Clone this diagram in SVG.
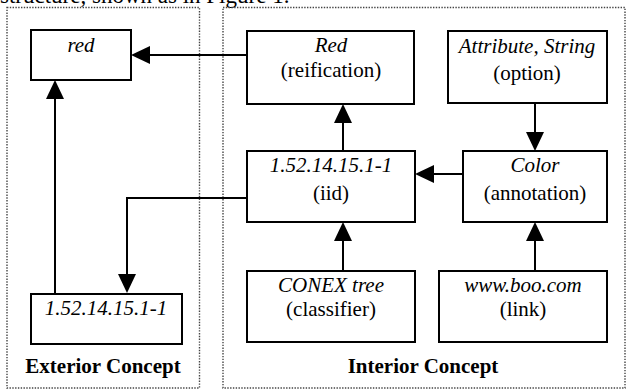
<svg xmlns="http://www.w3.org/2000/svg" width="626" height="390" viewBox="0 0 626 390">
<style>
text{font-family:"Liberation Serif","Times New Roman",serif;font-size:21px;fill:#000;text-anchor:middle}
.it{font-style:italic}
.b{font-weight:bold}
.box{fill:#fff;stroke:#000;stroke-width:2}
.region{fill:none;stroke:#444;stroke-width:1.4;stroke-dasharray:1.4 1.4}
.conn{fill:none;stroke:#000;stroke-width:2}
</style>
<defs>
<marker id="ah" markerUnits="userSpaceOnUse" markerWidth="20" markerHeight="20" refX="0" refY="9" orient="auto" viewBox="0 0 20 18">
<path d="M0,0 L19,9 L0,18 z" fill="#000"/>
</marker>
</defs>
<rect width="626" height="390" fill="#fff"/>
<text x="0" y="3" style="text-anchor:start;font-size:23px">structure, shown as in Figure 1.</text>
<g id="exterior-region">
<rect class="region" x="7" y="7.5" width="192.5" height="380.5"/>
<text class="b" x="103" y="373">Exterior Concept</text>
</g>
<g id="interior-region">
<rect class="region" x="223" y="7.5" width="402" height="380.5"/>
<text class="b" x="423" y="373">Interior Concept</text>
</g>
<g id="connectors">
<path class="conn" d="M247,55 H150" marker-end="url(#ah)"/>
<path class="conn" d="M343,151 V123" marker-end="url(#ah)"/>
<path class="conn" d="M535,103 V132" marker-end="url(#ah)"/>
<path class="conn" d="M463,174 H434" marker-end="url(#ah)"/>
<path class="conn" d="M343,271 V241" marker-end="url(#ah)"/>
<path class="conn" d="M535,271 V241" marker-end="url(#ah)"/>
<path class="conn" d="M247,198 H127 V274" marker-end="url(#ah)"/>
<path class="conn" d="M55,294 V99" marker-end="url(#ah)"/>
</g>
<g id="node-red">
<rect class="box" x="31" y="30" width="100" height="50"/>
<text class="it" x="81" y="52">red</text>
</g>
<g id="node-ext-iid">
<rect class="box" x="31" y="294" width="151" height="50"/>
<text class="it" x="106" y="315">1.52.14.15.1-1</text>
</g>
<g id="node-reification">
<rect class="box" x="247" y="31" width="167" height="73"/>
<text class="it" x="331" y="52">Red</text>
<text x="331" y="77">(reification)</text>
</g>
<g id="node-option">
<rect class="box" x="448" y="31" width="159" height="72"/>
<text class="it" x="527" y="53">Attribute, String</text>
<text x="527" y="80">(option)</text>
</g>
<g id="node-iid">
<rect class="box" x="247" y="151" width="168" height="71"/>
<text class="it" x="331" y="172">1.52.14.15.1-1</text>
<text x="331" y="200">(iid)</text>
</g>
<g id="node-annotation">
<rect class="box" x="463" y="151" width="144" height="71"/>
<text class="it" x="535" y="172">Color</text>
<text x="535" y="200">(annotation)</text>
</g>
<g id="node-classifier">
<rect class="box" x="247" y="271" width="168" height="71"/>
<text class="it" x="331" y="292">CONEX tree</text>
<text x="331" y="316">(classifier)</text>
</g>
<g id="node-link">
<rect class="box" x="439" y="271" width="168" height="71"/>
<text class="it" x="523" y="292">www.boo.com</text>
<text x="523" y="316">(link)</text>
</g>
</svg>
